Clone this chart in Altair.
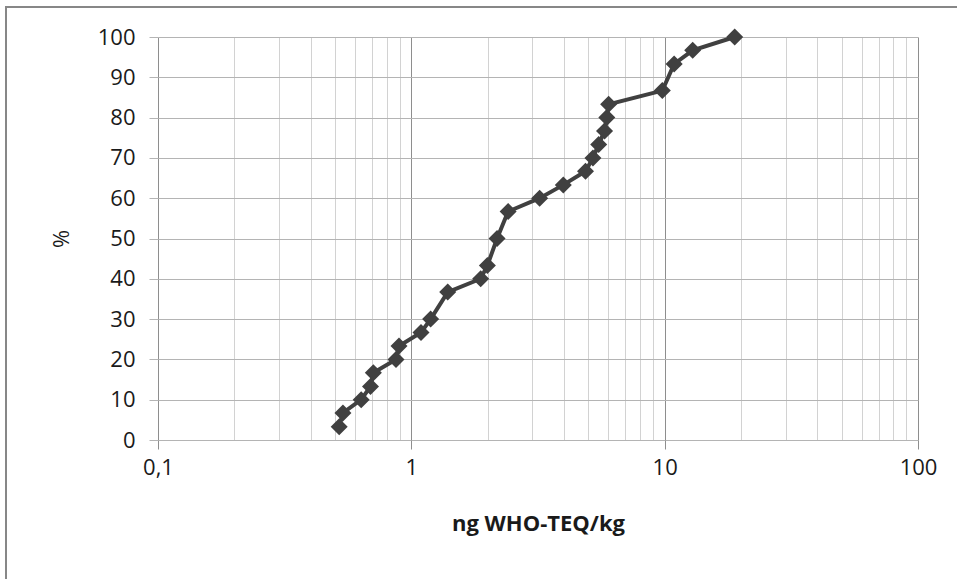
import altair as alt
import pandas as pd

# Cumulative distribution values
conc = [0.519, 0.537, 0.634, 0.690, 0.708, 0.870, 0.894, 1.092, 1.192, 1.392,
        1.878, 1.996, 2.18, 2.41, 3.21, 3.98, 4.87, 5.21, 5.49, 5.79,
        5.91, 6.01, 9.79, 10.9, 12.9, 18.9]
pct = [3.3, 6.7, 10, 13.3, 16.7, 20, 23.3, 26.7, 30, 36.7,
       40, 43.3, 50, 56.7, 60, 63.3, 66.7, 70, 73.3, 76.7,
       80, 83.3, 86.7, 93.3, 96.7, 100]

x_grid_values = [0.1, 0.2, 0.3, 0.4, 0.5, 0.6, 0.7, 0.8, 0.9,
                 1, 2, 3, 4, 5, 6, 7, 8, 9,
                 10, 20, 30, 40, 50, 60, 70, 80, 90, 100]
y_tick_values = [0, 10, 20, 30, 40, 50, 60, 70, 80, 90, 100]

df = pd.DataFrame({"conc": conc, "pct": pct, "idx": list(range(len(conc)))})

FONT = "Open Sans"
major = "datum.value == 0.1 || datum.value == 1 || datum.value == 10 || datum.value == 100"

x_enc = alt.X(
    "conc:Q",
    scale=alt.Scale(type="log", domain=[0.1, 100], nice=False),
    axis=alt.Axis(
        title="ng WHO-TEQ/kg",
        values=x_grid_values,
        labelExpr="datum.value == 0.1 ? '0,1' : (datum.value == 1 ? '1' : (datum.value == 10 ? '10' : (datum.value == 100 ? '100' : '')))",
        labelOverlap=False,
        labelFlush=False,
        labelBound=False,
        grid=True,
        gridColor={"condition": {"test": major, "value": "#8e8e8e"}, "value": "#d2d2d2"},
        gridWidth=1,
        domain=False,
        ticks=True,
        tickSize=9,
        tickColor="#8e8e8e",
        tickOpacity={"condition": {"test": major, "value": 1}, "value": 0},
        labelFontSize=22,
        labelFont=FONT,
        labelColor="#1a1a1a",
        labelPadding=8,
        titleFont=FONT,
        titleFontSize=22,
        titleFontWeight="bold",
        titleColor="#1a1a1a",
        titlePadding=35,
    ),
)

y_enc = alt.Y(
    "pct:Q",
    scale=alt.Scale(domain=[0, 100], nice=False),
    axis=alt.Axis(
        title="%",
        values=y_tick_values,
        grid=True,
        gridColor="#b4b4b4",
        gridWidth=1,
        domain=False,
        tickSize=9,
        tickColor="#b4b4b4",
        labelFontSize=22,
        labelFont=FONT,
        labelColor="#1a1a1a",
        labelPadding=14,
        titleFont=FONT,
        titleFontSize=22,
        titleFontWeight="normal",
        titleColor="#1a1a1a",
        titlePadding=24,
    ),
)

base = alt.Chart(df)

line = base.mark_line(color="#404040", strokeWidth=4).encode(
    x=x_enc, y=y_enc, order="idx:Q"
)
points = base.mark_point(
    shape="diamond", filled=True, size=290, color="#404040", opacity=1
).encode(x="conc:Q", y="pct:Q")

border = alt.Chart(pd.DataFrame({"a": [0]})).mark_rect(
    fillOpacity=0, stroke="#878787", strokeWidth=2, clip=False
).encode(
    x=alt.value(-152), x2=alt.value(900), y=alt.value(-30), y2=alt.value(600)
)

chart = alt.layer(line, points, border).properties(
    width=760,
    height=403,
    autosize=alt.AutoSizeParams(type="none"),
    padding={"left": 158, "top": 37, "right": 39, "bottom": 139},
    background="white",
).configure_view(stroke=None)

chart.save("out.html", embed_options={"renderer": "svg", "actions": False})
